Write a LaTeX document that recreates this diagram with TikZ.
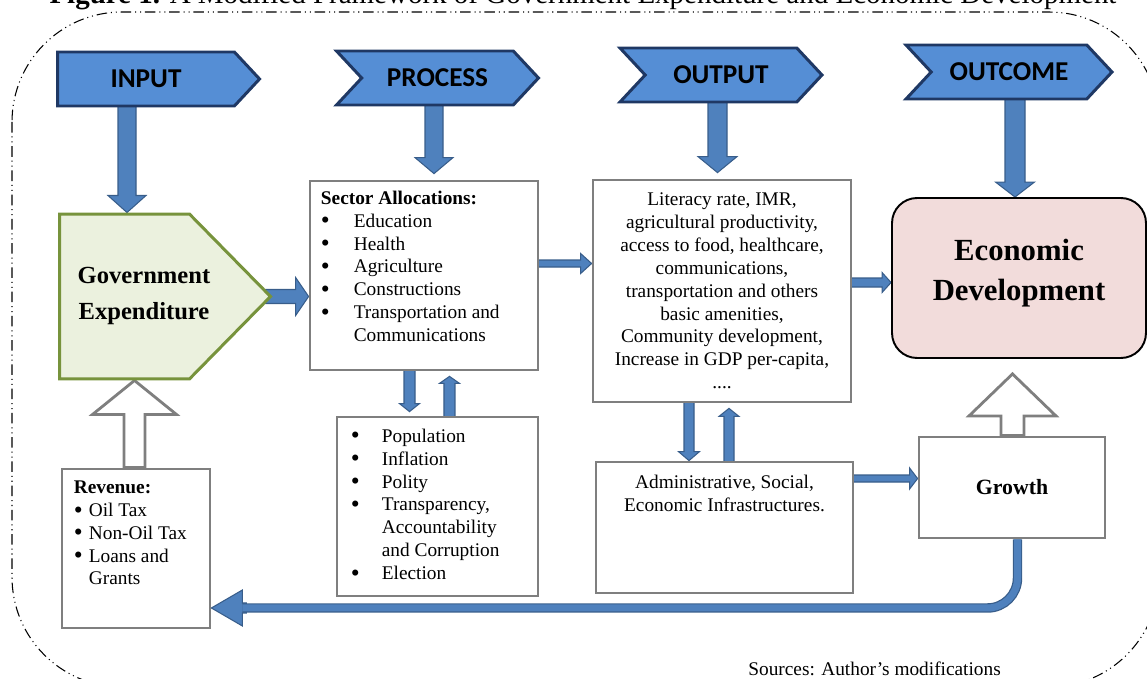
\documentclass[tikz,border=0pt]{standalone}
\usepackage{fontspec}
\setmainfont{Liberation Serif}
\newfontfamily\bannerfont{Carlito}
\usetikzlibrary{shapes.symbols,calc}

\definecolor{bannerblue}{HTML}{558ED5}
\definecolor{bannerline}{HTML}{1F3864}
\definecolor{arrowfill}{HTML}{4F81BD}
\definecolor{arrowline}{HTML}{385D8A}
\definecolor{boxgray}{HTML}{7F7F7F}
\definecolor{govfill}{HTML}{EBF1DE}
\definecolor{govline}{HTML}{77933C}
\definecolor{econfill}{HTML}{F2DCDB}

\pgfdeclarelayer{background}
\pgfsetlayers{background,main}

\tikzset{
  banner/.style={signal, signal to=east, signal pointer angle=94, draw=bannerline,
    fill=bannerblue, line width=1.7pt, minimum width=4.04cm, minimum height=1.08cm,
    inner sep=0pt, font=\bannerfont\bfseries\fontsize{15.5}{18}\selectfont},
  notched/.style={signal from=west},
  graybox/.style={draw=boxgray, fill=white, line width=1.6pt, inner sep=0pt},
  txt/.style={inner sep=0pt, align=left, font=\fontsize{11}{13}\selectfont},
  blockarrow/.style={draw=arrowline, fill=arrowfill, line width=0.6pt},
  hollowarrow/.style={draw=boxgray, fill=white, line width=1.6pt},
  returnline/.style={draw=arrowline, double=arrowfill, double distance=0.14cm,
    line width=0.7pt, rounded corners=0.6cm},
}

% bullet in a box of given width
\newcommand{\blt}[1]{\makebox[#1][l]{\raisebox{-0.9pt}{\fontsize{14.5}{13}\selectfont\textbullet}}}
% block arrows: [style]{tail}{tip}{half shaft}{half head}{head length}
\newcommand{\vblock}[6][blockarrow]{%
  \draw[#1] ($(#2 -| #3)+({-(#4)},0)$) -- ($(#3)+({-(#4)},{-(#6)})$)
    -- ($(#3)+({-(#5)},{-(#6)})$) -- (#3) -- ($(#3)+(#5,{-(#6)})$)
    -- ($(#3)+(#4,{-(#6)})$) -- ($(#2 -| #3)+(#4,0)$) -- cycle;}
\newcommand{\hblock}[6][blockarrow]{%
  \draw[#1] ($(#2 |- #3)+(0,{-(#4)})$) -- ($(#3)+({-(#6)},{-(#4)})$)
    -- ($(#3)+({-(#6)},{-(#5)})$) -- (#3) -- ($(#3)+({-(#6)},#5)$)
    -- ($(#3)+({-(#6)},#4)$) -- ($(#2 |- #3)+(0,#4)$) -- cycle;}

\begin{document}
\begin{tikzpicture}[x=0.02cm, y=-0.02cm]
\useasboundingbox (0,0) rectangle (1147,679);
% outer frame
\draw[line width=0.6pt, rounded corners=2.2cm,
  dash pattern=on 6pt off 2.2pt on 0.6pt off 2.2pt on 0.6pt off 2.2pt]
  (12,12) rectangle (1159,687);
\node[anchor=base, inner sep=0pt, font=\fontsize{16.5}{19}\selectfont] (title) at (583,4)
  {\textbf{Figure 1.} A Modified Framework of Government Expenditure and Economic Development};

% stage banners
\node[banner] (input) at (146,79) {INPUT};
\node[banner, notched] (process) at (437.5,78) {PROCESS};
\node[banner, notched] (output) at (721,75) {OUTPUT};
\node[banner, notched, minimum width=4.12cm] (outcome) at (1009,72) {OUTCOME};

% boxes
\node[signal, signal to=east, signal pointer angle=91, draw=govline, fill=govfill,
  line width=1.7pt, minimum width=4.22cm, minimum height=3.3cm] (gov) at (124.5,296.5) {};
\node[inner sep=0pt, align=center, font=\bfseries\fontsize{14}{20.4}\selectfont]
  (govtxt) at (144,296) {Government\\Expenditure};

\node[graybox, minimum width=4.56cm, minimum height=3.78cm] (sector) at (424,275.5) {};
\node[txt, anchor=north west] (sectortxt) at ([shift={(12,11)}]sector.north west)
  {\textbf{Sector Allocations:}\\
   \blt{18.7pt}Education\\
   \blt{18.7pt}Health\\
   \blt{18.7pt}Agriculture\\
   \blt{18.7pt}Constructions\\
   \blt{18.7pt}Transportation and\\
   \hspace*{18.7pt}Communications};

\node[graybox, minimum width=4.02cm, minimum height=3.58cm] (env) at (437.5,506.5) {};
\node[txt, anchor=north west] (envtxt) at ([shift={(15,13)}]env.north west)
  {\blt{17.6pt}Population\\
   \blt{17.6pt}Inflation\\
   \blt{17.6pt}Polity\\
   \blt{17.6pt}Transparency,\\
   \hspace*{17.6pt}Accountability\\
   \hspace*{17.6pt}and Corruption\\
   \blt{17.6pt}Election};

\node[graybox, minimum width=2.96cm, minimum height=3.18cm] (rev) at (136,548.5) {};
\node[txt, anchor=north west] (revtxt) at ([shift={(13,13)}]rev.north west)
  {\textbf{Revenue:}\\
   \blt{8.5pt}Oil Tax\\
   \blt{8.5pt}Non-Oil Tax\\
   \blt{8.5pt}Loans and\\
   \hspace*{8.5pt}Grants};

\node[graybox, txt, align=center, minimum width=5.16cm, minimum height=4.44cm] (outbox) at (722,291)
  {Literacy rate, IMR,\\agricultural productivity,\\access to food, healthcare,\\communications,\\
   transportation and others\\basic amenities,\\Community development,\\Increase in GDP per-capita,\\....};

\node[graybox, minimum width=5.14cm, minimum height=2.62cm] (infra) at (724.5,527.5) {};
\node[txt, align=center, anchor=north] (infratxt) at ([shift={(0,14)}]infra.north)
  {Administrative, Social,\\Economic Infrastructures.};

\node[draw=black, fill=econfill, line width=1.1pt, rounded corners=0.5cm, minimum width=5.08cm,
  minimum height=3.2cm] (econ) at (1019,278) {};
\node[inner sep=0pt, align=center, font=\bfseries\fontsize{17.5}{22.7}\selectfont]
  (econtxt) at (1019,273) {Economic\\Development};

\node[graybox, minimum width=3.72cm, minimum height=2.02cm, font=\bfseries\fontsize{12.4}{15}\selectfont]
  (growth) at (1012,487.5) {Growth};

\node[anchor=base west, inner sep=0pt, font=\fontsize{11}{13}\selectfont] (src) at (748,675)
  {Sources: Author’s modifications};

% arrow ends
\coordinate (inTip) at ([xshift=0.05cm]gov.north);
\coordinate (prTip) at ([xshift=0.2cm,yshift=0.12cm]sector.north);
\coordinate (opTip) at ([xshift=-0.09cm,yshift=0.12cm]outbox.north);
\coordinate (ocTip) at ([xshift=-0.08cm]econ.north);
\coordinate (gsTip) at (sector.west |- gov.east);
\coordinate (soTail) at ([yshift=0.24cm]sector.east);
\coordinate (soTip) at (soTail -| outbox.west);
\coordinate (oeTail) at ([yshift=0.17cm]outbox.east);
\coordinate (oeTip) at (oeTail -| econ.west);
\coordinate (seTip) at ([xshift=-0.56cm,yshift=0.08cm]env.north);
\coordinate (esTip) at ([xshift=0.51cm,yshift=-0.1cm]sector.south);
\coordinate (oiTip) at ([xshift=-0.71cm]infra.north);
\coordinate (ioTip) at ([xshift=0.14cm,yshift=-0.1cm]outbox.south);
\coordinate (igTail) at ([yshift=0.98cm]infra.east);
\coordinate (igTip) at (igTail -| growth.west);
\coordinate (rgTip) at ([xshift=0.2cm]gov.south);
\coordinate (geTip) at ([xshift=-0.13cm,yshift=-0.3cm]econ.south);
\coordinate (rtTail) at ([xshift=0.11cm]growth.south);
\coordinate (rtTip) at ([yshift=-1.19cm]rev.east);
\coordinate (rtHead) at ([xshift=0.7cm]rtTip);
\coordinate (rtBase) at ([xshift=0.62cm]rtTip);

\begin{pgfonlayer}{background}
\vblock{input.center}{inTip}{9}{19}{17}
\vblock{process.center}{prTip}{9}{19}{16}
\vblock{output.center}{opTip}{9.5}{19.5}{16}
\vblock{outcome.center}{ocTip}{10}{19.5}{15}
\hblock{gov.center}{gsTip}{7}{19}{13}
\hblock{sector.center}{soTip}{3.5}{10}{11}
\hblock{outbox.center}{oeTip}{4.5}{10}{9}
\vblock{sector.center}{seTip}{5.5}{10}{8}
\vblock{env.center}{esTip}{5.5}{10}{-7}
\vblock{outbox.center}{oiTip}{5}{10.5}{9}
\vblock{infra.center}{ioTip}{5}{10}{-8}
\hblock{infra.center}{igTip}{3.5}{10.5}{8}
\vblock[hollowarrow]{rev.north}{rgTip}{10.5}{42}{-34}
\vblock[hollowarrow]{growth.north}{geTip}{11.5}{43.5}{-42}
% feedback from growth to revenue
\hblock{rtHead}{rtTip}{5}{18}{-31}
\draw[returnline] (rtTail) |- (rtBase);
\end{pgfonlayer}
\end{tikzpicture}
\end{document}
